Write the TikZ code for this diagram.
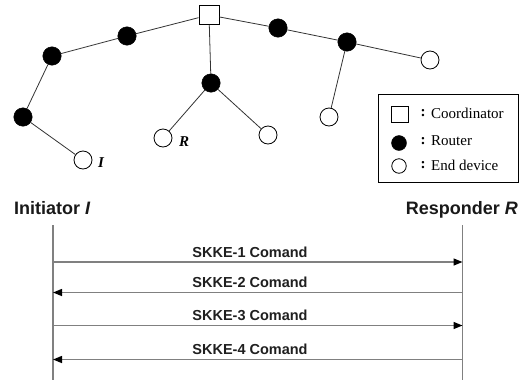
\documentclass[tikz,border=0pt]{standalone}
\usepackage{fontspec}
\setmainfont{Liberation Serif}
\setsansfont{Liberation Sans}
\usetikzlibrary{arrows.meta}
\begin{document}
\begin{tikzpicture}[x=1pt,y=-1pt,
  router/.style={circle,fill=black,draw=black,minimum size=18.5pt,inner sep=0pt},
  enddev/.style={circle,fill=white,draw=black,line width=0.8pt,minimum size=18pt,inner sep=0pt},
  coordbox/.style={rectangle,draw=black,fill=white,line width=0.8pt,minimum width=20pt,minimum height=19pt,inner sep=0pt},
  link/.style={draw=black!80,line width=0.8pt},
  tag/.style={font=\fontsize{15}{17}\selectfont\bfseries\itshape,inner sep=0pt},
  legtext/.style={font=\fontsize{15}{17}\selectfont,anchor=west,inner sep=0pt},
  legcolon/.style={font=\fontsize{15}{17}\selectfont\bfseries,inner sep=0pt},
  head/.style={font=\sffamily\bfseries\fontsize{18}{21}\selectfont,text=black!90,inner sep=0pt},
  life/.style={draw=black!50,line width=1.4pt},
  msg/.style={draw=black!50,line width=1.4pt,-{Triangle[length=9pt,width=7pt,color=black]}},
  msglabel/.style={font=\sffamily\bfseries\fontsize{14.5}{16}\selectfont,text=black!88,anchor=base,inner sep=0pt}
]
\useasboundingbox (0,0) rectangle (524,383);

% ---- network tree ----
\node[coordbox] (c)  at (209,15) {};
\node[router]   (r1) at (127,36) {};
\node[router]   (r2) at (52,56) {};
\node[router]   (r3) at (23,117) {};
\node[router]   (r4) at (211,83) {};
\node[router]   (r5) at (278,28) {};
\node[router]   (r6) at (347,42) {};
\node[enddev]   (ei) at (83,160) {};
\node[enddev]   (er) at (163,138) {};
\node[enddev]   (e3) at (268,135) {};
\node[enddev]   (e4) at (329,117) {};
\node[enddev]   (e5) at (430,60) {};

\draw[link] (c) -- (r1) -- (r2) -- (r3) -- (ei);
\draw[link] (c) -- (r4) -- (er);
\draw[link] (r4) -- (e3);
\draw[link] (c) -- (r5) -- (r6) -- (e5);
\draw[link] (r6) -- (e4);

\node[tag] (ti) at (101,163) {I};
\node[tag] (tr) at (184,142) {R};

% ---- legend ----
\node[draw=black,line width=0.8pt,minimum width=140pt,minimum height=88pt,inner sep=0pt] (leg) at (448,138) {};
\node[coordbox,minimum width=17pt,minimum height=16pt] (lc) at (400,114) {};
\node[router,minimum size=15pt] (lr) at (399,143) {};
\node[enddev,minimum size=14.5pt] (le) at (399,166) {};
\node[legcolon] (k1) at (423,113) {:};
\node[legcolon] (k2) at (423,141) {:};
\node[legcolon] (k3) at (423,165) {:};
\node[legtext] (t1) at (431,113) {Coordinator};
\node[legtext] (t2) at (431,141) {Router};
\node[legtext] (t3) at (431,165) {End device};

% ---- key exchange sequence ----
\node[head,anchor=base west] (hi) at (14,214) {Initiator \textit{I}};
\node[head,anchor=base east] (hr) at (518,214) {Responder \textit{R}};

\coordinate (it) at (53,225);
\coordinate (ib) at (53,380);
\coordinate (rt) at (462.5,225);
\coordinate (rb) at (462.5,380);
\draw[life] (it) -- (ib);
\draw[life] (rt) -- (rb);

\coordinate (i1) at (53,262);   \coordinate (r1m) at (462.5,262);
\coordinate (i2) at (53,292.5); \coordinate (r2m) at (462.5,292.5);
\coordinate (i3) at (53,325.5); \coordinate (r3m) at (462.5,325.5);
\coordinate (i4) at (53,359.5); \coordinate (r4m) at (462.5,359.5);

\draw[msg] (i1) -- (r1m);
\draw[msg] (r2m) -- (i2);
\draw[msg] (i3) -- (r3m);
\draw[msg] (r4m) -- (i4);

\node[msglabel] (m1) at (250,257) {SKKE-1 Comand};
\node[msglabel] (m2) at (250,287.5) {SKKE-2 Comand};
\node[msglabel] (m3) at (250,320.5) {SKKE-3 Comand};
\node[msglabel] (m4) at (250,354.5) {SKKE-4 Comand};
\end{tikzpicture}
\end{document}
